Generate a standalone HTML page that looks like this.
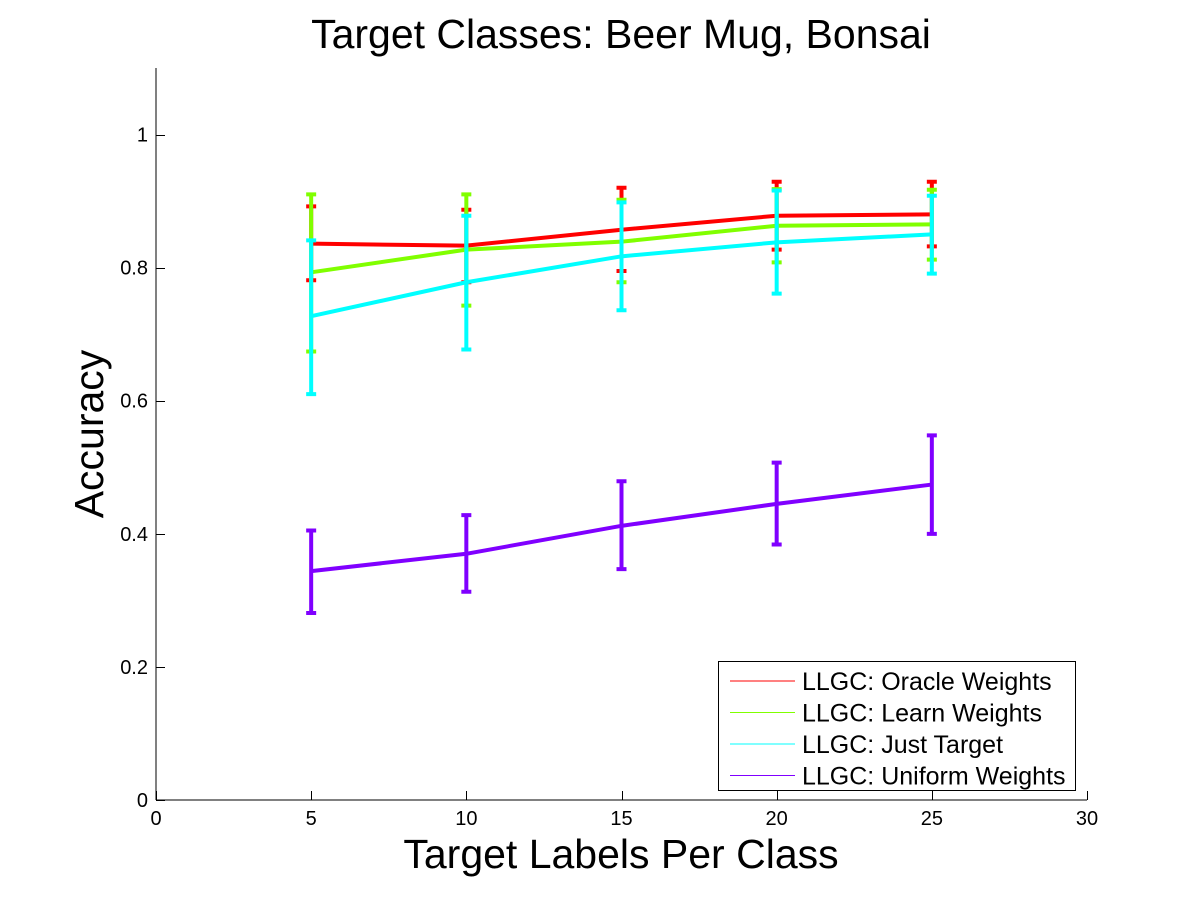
<!DOCTYPE html>
<html><head><meta charset="utf-8"><style>
html,body{margin:0;padding:0;background:#fff;}
svg text{font-family:"Liberation Sans",Arial,sans-serif;fill:#000;}
</style></head><body>
<svg id="chart" width="1200" height="900" xmlns="http://www.w3.org/2000/svg">
<rect x="0" y="0" width="1200" height="900" fill="#fff"/>
<text x="621" y="48" font-size="41" text-anchor="middle">Target Classes: Beer Mug, Bonsai</text>
<text x="621" y="868" font-size="41" text-anchor="middle">Target Labels Per Class</text>
<text transform="translate(103,434) rotate(-90)" font-size="41" text-anchor="middle">Accuracy</text>
<g id="axes"></g>
<g id="series"></g>
<g id="legend"></g>
</svg>
<script>
const xVals = [5, 10, 15, 20, 25];
const xTicks = [0, 5, 10, 15, 20, 25, 30];
const yTicks = [0, 0.2, 0.4, 0.6, 0.8, 1];
const yTickLabels = ["0", "0.2", "0.4", "0.6", "0.8", "1"];
const seriesNames = ["LLGC: Oracle Weights", "LLGC: Learn Weights", "LLGC: Just Target", "LLGC: Uniform Weights"];
const seriesColors = ["#ff0000", "#80ff00", "#00ffff", "#8000ff"];
const oracleMean = [0.836, 0.833, 0.857, 0.878, 0.880];
const oracleUpper = [0.892, 0.887, 0.920, 0.929, 0.929];
const oracleLower = [0.781, 0.778, 0.795, 0.827, 0.832];
const learnMean = [0.793, 0.827, 0.839, 0.863, 0.865];
const learnUpper = [0.910, 0.910, 0.902, 0.918, 0.917];
const learnLower = [0.674, 0.743, 0.778, 0.808, 0.812];
const justMean = [0.727, 0.778, 0.817, 0.838, 0.850];
const justUpper = [0.841, 0.878, 0.898, 0.916, 0.908];
const justLower = [0.610, 0.677, 0.736, 0.761, 0.791];
const uniformMean = [0.344, 0.370, 0.412, 0.445, 0.474];
const uniformUpper = [0.405, 0.428, 0.479, 0.507, 0.548];
const uniformLower = [0.281, 0.313, 0.347, 0.384, 0.400];

const NS = "http://www.w3.org/2000/svg";
const X0 = 156, X1 = 1087, Y0 = 800, Y1 = 68;
const xMin = 0, xMax = 30, yMin = 0, yMax = 1.1;
function sx(v){ return X0 + (v - xMin) / (xMax - xMin) * (X1 - X0); }
function sy(v){ return Y0 - (v - yMin) / (yMax - yMin) * (Y0 - Y1); }
function mk(tag, attrs, parent){
  const e = document.createElementNS(NS, tag);
  for (const k in attrs) e.setAttribute(k, attrs[k]);
  parent.appendChild(e);
  return e;
}
const axes = document.getElementById('axes');
let a = mk('line', {x1:X0, y1:Y0, x2:X1, y2:Y0, stroke:'#000', 'stroke-width':1}, axes);


a = mk('line', {x1:X0, y1:Y0, x2:X0, y2:Y1, stroke:'#000', 'stroke-width':1}, axes);


xTicks.forEach(t => {
  const x = Math.round(sx(t)) + 0.5;
  const l = mk('line', {x1:x, y1:Y0, x2:x, y2:Y0-9, stroke:'#000', 'stroke-width':1}, axes);
  
  
  const tx = mk('text', {x:sx(t), y:Y0+25, 'font-size':20, 'text-anchor':'middle'}, axes);
  tx.textContent = String(t);
  
  
});
yTicks.forEach((t, i) => {
  const y = Math.round(sy(t)) + 0.5;
  const l = mk('line', {x1:X0, y1:y, x2:X0+9, y2:y, stroke:'#000', 'stroke-width':1}, axes);
  
  
  const tx = mk('text', {x:X0-8, y:sy(t)+7, 'font-size':20, 'text-anchor':'end'}, axes);
  tx.textContent = yTickLabels[i];
  
  
});
const seriesG = document.getElementById('series');
const allMeans = [oracleMean, learnMean, justMean, uniformMean];
const allUpper = [oracleUpper, learnUpper, justUpper, uniformUpper];
const allLower = [oracleLower, learnLower, justLower, uniformLower];
const keys = ['oracle', 'learn', 'just-target', 'uniform'];
allMeans.forEach((m, s) => {
  const g = mk('g', {}, seriesG);
  
  
  const pts = m.map((v, i) => sx(xVals[i]) + ',' + sy(v)).join(' ');
  const pl = mk('polyline', {points:pts, fill:'none', stroke:seriesColors[s], 'stroke-width':4}, g);
  
  
  m.forEach((v, i) => {
    const x = sx(xVals[i]);
    const up = sy(allUpper[s][i]), lo = sy(allLower[s][i]);
    const eb = mk('path', {d:`M${x},${up}V${lo}M${x-5},${up}H${x+5}M${x-5},${lo}H${x+5}`, fill:'none', stroke:seriesColors[s], 'stroke-width':4}, g);
    
    
  });
});
const lg = document.getElementById('legend');
const box = mk('rect', {x:718.5, y:661.5, width:357, height:129, fill:'#fff', stroke:'#000', 'stroke-width':1}, lg);


seriesNames.forEach((n, i) => {
  const y = 681 + i * 31.5;
  const l = mk('line', {x1:730, y1:y, x2:795, y2:y, stroke:seriesColors[i], 'stroke-width':1}, lg);
  
  
  const t = mk('text', {x:802, y:y+9, 'font-size':25}, lg);
  t.textContent = n;
  
  
});
</script>
</body></html>
